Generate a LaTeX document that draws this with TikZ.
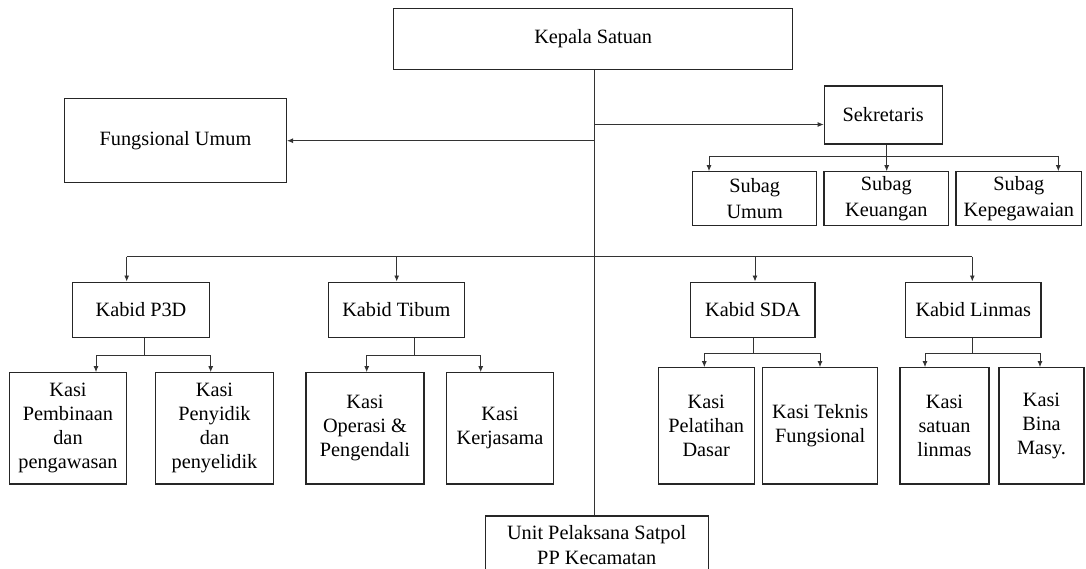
\documentclass[tikz,border=0pt]{standalone}
\usepackage{fontspec}
\setmainfont{Liberation Serif}
\usetikzlibrary{arrows.meta,calc}
\begin{document}
\begin{tikzpicture}[x=1pt,y=-1pt,
  box/.style={draw=black!85, line width=1.1pt, rectangle, inner sep=0pt, align=center,
    font=\fontsize{20.3}{24}\selectfont},
  subbox/.style={box, font=\fontsize{20.3}{26}\selectfont},
  conn/.style={draw=black!80, line width=0.9pt},
  arr/.style={conn, -{Latex[length=6pt,width=5pt]}}]
\fill[white] (0,0) rectangle (1086,569);
\useasboundingbox (0,0) rectangle (1086,569);
\clip (0,0) rectangle (1086,569);

% top level
\node[box, minimum width=399pt, minimum height=61pt] (kepala) at (593.2,38.8) {Kepala Satuan};
\node[box, minimum width=222pt, minimum height=84pt] (fung) at (175.5,140.7) {Fungsional Umum};
\node[box, minimum width=118pt, minimum height=58pt] (sek) at (883.2,115) {Sekretaris};

% subag
\node[subbox, minimum width=124pt, minimum height=54pt] (umum) at (754.7,198.7) {Subag\\Umum};
\node[subbox, minimum width=124.7pt, minimum height=54pt] (keu) at (886.3,198.7) {Subag\\Keuangan};
\node[subbox, minimum width=125.7pt, minimum height=54pt] (kep) at (1018.8,198.7) {Subag\\Kepegawaian};

% kabid
\node[box, minimum width=136.6pt, minimum height=55.3pt] (p3d) at (141,309.7) {Kabid P3D};
\node[box, minimum width=136pt, minimum height=55.3pt] (tibum) at (396.3,309.7) {Kabid Tibum};
\node[box, minimum width=124.3pt, minimum height=55.3pt] (sda) at (752.8,309.7) {Kabid SDA};
\node[box, minimum width=135.3pt, minimum height=55.3pt] (linmas) at (973.3,309.7) {Kabid Linmas};

% kasi
\node[box, minimum width=117.4pt, minimum height=111.3pt] (pemb) at (68,428.3) {Kasi\\Pembinaan\\dan\\pengawasan};
\node[box, minimum width=117.6pt, minimum height=111.3pt] (peny) at (214.5,428.3) {Kasi\\Penyidik\\dan\\penyelidik};
\node[box, minimum width=118pt, minimum height=111.3pt] (oper) at (365,428.3) {Kasi\\Operasi \&\\Pengendali};
\node[box, minimum width=106.6pt, minimum height=111.3pt] (kerja) at (500,428.3) {Kasi\\Kerjasama};
\node[box, minimum width=95.7pt, minimum height=116.3pt] (pelat) at (706.2,425.8) {Kasi\\Pelatihan\\Dasar};
\node[box, minimum width=115pt, minimum height=116.3pt] (tekn) at (820.2,425.8) {Kasi Teknis\\Fungsional};
\node[box, minimum width=89pt, minimum height=116.3pt] (satu) at (944.5,425.8) {Kasi\\satuan\\linmas};
\node[box, minimum width=85pt, minimum height=116.3pt] (bina) at (1041.5,425.8) {Kasi\\Bina\\Masy.};

% unit
\node[box, minimum width=223.3pt, minimum height=59pt, font=\fontsize{20.3}{25}\selectfont] (unit) at (596.7,545.5) {Unit Pelaksana Satpol\\PP Kecamatan};

% main trunk
\coordinate (m) at (594.3,0);
\draw[conn] (kepala.south -| m) -- (unit.north -| m);

% fungsional and sekretaris
\coordinate (yf) at (0,140.7);
\coordinate (ys) at (0,124.5);
\draw[arr] (m |- yf) -- (fung.east);
\draw[arr] (m |- ys) -- (sek.west |- ys);

% sekretaris to subag
\coordinate (sx) at (886.7,156);
\coordinate (sbL) at (709,156);
\coordinate (sbR) at (1058.3,156);
\draw[conn] (sek.south -| sx) -- (sx);
\draw[conn] (sbL) -- (sbR);
\draw[arr] (sbL) -- (sbL |- umum.north);
\draw[arr] (sx) -- (sx |- keu.north);
\draw[arr] (sbR) -- (sbR |- kep.north);

% main branch to kabid
\coordinate (bL) at (126.7,256.7);
\coordinate (bT) at (396.7,256.7);
\coordinate (bS) at (755,256.7);
\coordinate (bR) at (972.3,256.7);
\draw[conn] (bL) -- (bR);
\draw[arr] (bL) -- (bL |- p3d.north);
\draw[arr] (bT) -- (bT |- tibum.north);
\draw[arr] (bS) -- (bS |- sda.north);
\draw[arr] (bR) -- (bR |- linmas.north);

% P3D
\coordinate (pM) at (144,355);
\coordinate (pL) at (96,355);
\coordinate (pR) at (210.7,355);
\draw[conn] (p3d.south -| pM) -- (pM);
\draw[conn] (pL) -- (pR);
\draw[arr] (pL) -- (pL |- pemb.north);
\draw[arr] (pR) -- (pR |- peny.north);

% Tibum
\coordinate (tM) at (414,355);
\coordinate (tL) at (366.7,355);
\coordinate (tR) at (480.7,355);
\draw[conn] (tibum.south -| tM) -- (tM);
\draw[conn] (tL) -- (tR);
\draw[arr] (tL) -- (tL |- oper.north);
\draw[arr] (tR) -- (tR |- kerja.north);

% SDA
\coordinate (dM) at (753.3,353.3);
\coordinate (dL) at (704.3,353.3);
\coordinate (dR) at (820,353.3);
\draw[conn] (sda.south -| dM) -- (dM);
\draw[conn] (dL) -- (dR);
\draw[arr] (dL) -- (dL |- pelat.north);
\draw[arr] (dR) -- (dR |- tekn.north);

% Linmas
\coordinate (lM) at (972.3,353.3);
\coordinate (lL) at (925,353.3);
\coordinate (lR) at (1040,353.3);
\draw[conn] (linmas.south -| lM) -- (lM);
\draw[conn] (lL) -- (lR);
\draw[arr] (lL) -- (lL |- satu.north);
\draw[arr] (lR) -- (lR |- bina.north);
\end{tikzpicture}
\end{document}
